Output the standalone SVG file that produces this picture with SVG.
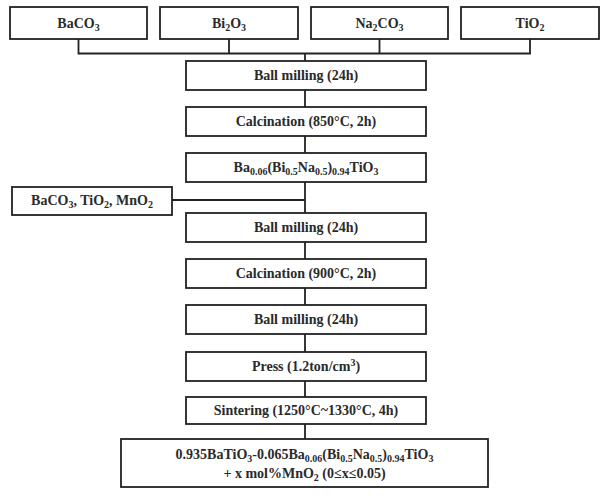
<svg xmlns="http://www.w3.org/2000/svg" width="611" height="498" viewBox="0 0 611 498">
<style>
.b{fill:#fff;stroke:#222;stroke-width:1.8}
.t{font-family:"Liberation Serif","Times New Roman",serif;font-weight:bold;font-size:14px;fill:#2a2a2a;text-anchor:middle}
.s{font-size:10px;baseline-shift:-3px}
.p{font-size:10px;baseline-shift:5px}
.c{fill:none;stroke:#222;stroke-width:1.8}
</style>
<rect width="611" height="498" fill="#fff"/>
<g id="connectors">
<path class="c" d="M78.5 39V53.5H530V39M229 39V53.5M379.5 39V53.5M305 53.5V61"/>
<path class="c" d="M305 90V107M305 136V153M305 182V213M172 200H305M305 242V259M305 288V305M305 334V352M305 381V397M305 424V439"/>
</g>
<g id="n1"><rect class="b" x="10" y="7" width="137" height="32"/><text class="t" x="78.5" y="28">BaCO<tspan class="s">3</tspan></text></g>
<g id="n2"><rect class="b" x="160" y="7" width="138" height="32"/><text class="t" x="229" y="28">Bi<tspan class="s">2</tspan>O<tspan class="s">3</tspan></text></g>
<g id="n3"><rect class="b" x="311" y="7" width="137" height="32"/><text class="t" x="379.5" y="28">Na<tspan class="s">2</tspan>CO<tspan class="s">3</tspan></text></g>
<g id="n4"><rect class="b" x="461" y="7" width="138" height="32"/><text class="t" x="530" y="28">TiO<tspan class="s">2</tspan></text></g>
<g id="n5"><rect class="b" x="186" y="61" width="240" height="29"/><text class="t" x="306" y="80">Ball milling (24h)</text></g>
<g id="n6"><rect class="b" x="186" y="107" width="240" height="29"/><text class="t" x="306" y="126">Calcination (850°C, 2h)</text></g>
<g id="n7"><rect class="b" x="186" y="153" width="240" height="29"/><text class="t" x="306" y="172">Ba<tspan class="s">0.06</tspan>(Bi<tspan class="s">0.5</tspan>Na<tspan class="s">0.5</tspan>)<tspan class="s">0.94</tspan>TiO<tspan class="s">3</tspan></text></g>
<g id="n8"><rect class="b" x="12" y="187" width="160" height="28"/><text class="t" x="92" y="205">BaCO<tspan class="s">3</tspan>, TiO<tspan class="s">2</tspan>, MnO<tspan class="s">2</tspan></text></g>
<g id="n9"><rect class="b" x="186" y="213" width="240" height="29"/><text class="t" x="306" y="232">Ball milling (24h)</text></g>
<g id="n10"><rect class="b" x="186" y="259" width="240" height="29"/><text class="t" x="306" y="278">Calcination (900°C, 2h)</text></g>
<g id="n11"><rect class="b" x="186" y="305" width="240" height="29"/><text class="t" x="306" y="324">Ball milling (24h)</text></g>
<g id="n12"><rect class="b" x="186" y="352" width="240" height="29"/><text class="t" x="306" y="371">Press (1.2ton/cm<tspan class="p">3</tspan>)</text></g>
<g id="n13"><rect class="b" x="186" y="397" width="240" height="27"/><text class="t" x="306" y="415">Sintering (1250°C~1330°C, 4h)</text></g>
<g id="n14"><rect class="b" x="121" y="439" width="367" height="48"/><text class="t" x="304.5" y="459">0.935BaTiO<tspan class="s">3</tspan>-0.065Ba<tspan class="s">0.06</tspan>(Bi<tspan class="s">0.5</tspan>Na<tspan class="s">0.5</tspan>)<tspan class="s">0.94</tspan>TiO<tspan class="s">3</tspan></text><text class="t" x="304.5" y="478">+ x mol%MnO<tspan class="s">2</tspan> (0≤x≤0.05)</text></g>
</svg>
